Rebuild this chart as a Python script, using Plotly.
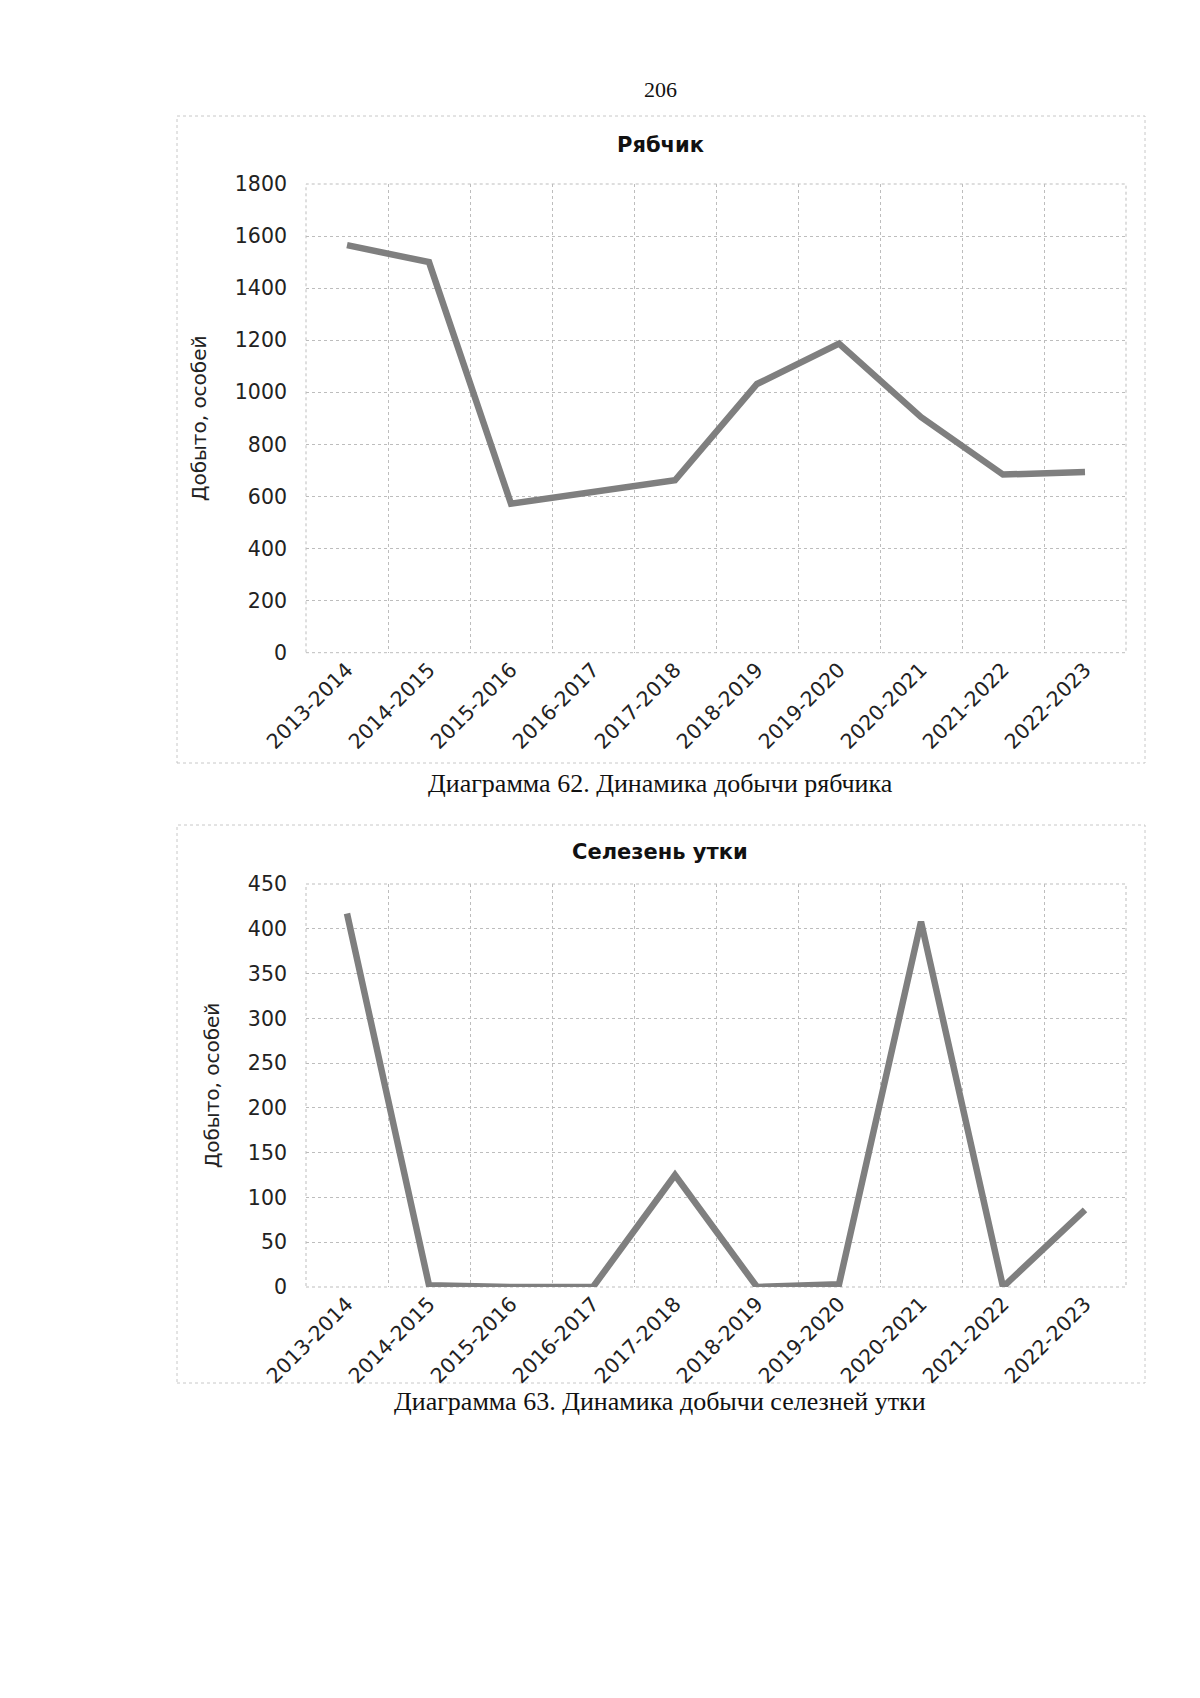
import plotly.graph_objects as go

seasons = ["2013-2014", "2014-2015", "2015-2016", "2016-2017", "2017-2018",
           "2018-2019", "2019-2020", "2020-2021", "2021-2022", "2022-2023"]
ryabchik = [1565, 1500, 572, 617, 662, 1032, 1187, 905, 684, 694]
selezen = [417, 2, 0, 0, 125, 0, 3, 408, 0, 86]

y1_ticks = [0, 200, 400, 600, 800, 1000, 1200, 1400, 1600, 1800]
y2_ticks = [0, 50, 100, 150, 200, 250, 300, 350, 400, 450]

OFF = 8  # page body margin in the browser
W, H = 1200 - OFF, 1698 - OFF
LINE_COLOR = "#7f7f7f"
GRID = "#bdbdbd"
TICK_FONT = dict(family="DejaVu Sans", size=20.5, color="#222222")


def px_x(x):
    return (x - OFF) / W


def px_y(y):
    return 1 - (y - OFF) / H


fig = go.Figure()
fig.add_trace(go.Scatter(x=seasons, y=ryabchik, mode="lines",
                         line=dict(color=LINE_COLOR, width=6.5),
                         xaxis="x", yaxis="y", showlegend=False))
fig.add_trace(go.Scatter(x=seasons, y=selezen, mode="lines",
                         line=dict(color=LINE_COLOR, width=6.5),
                         xaxis="x2", yaxis="y2", showlegend=False))

xcommon = dict(type="category", tickson="boundaries", showgrid=True,
               gridcolor=GRID, griddash="dot", gridwidth=1,
               ticks="", tickangle=-45, tickfont=TICK_FONT,
               showline=False, zeroline=False, range=[-0.5, 9.5],
               categoryorder="array", categoryarray=seasons,
               automargin=False,
               domain=[px_x(306), px_x(1126)])
ycommon = dict(showgrid=True, gridcolor=GRID, griddash="dot", gridwidth=1,
               ticks="", tickfont=TICK_FONT, showline=False, zeroline=False,
               ticklabelstandoff=18, automargin=False,
               title=dict(text="Добыто, особей",
                          font=dict(family="DejaVu Sans", size=20, color="#222222"),
                          standoff=22))

fig.update_layout(
    width=W, height=H, autosize=False,
    margin=dict(l=0, r=0, t=0, b=0, autoexpand=False),
    paper_bgcolor="white", plot_bgcolor="white",
    xaxis=dict(**xcommon, anchor="y"),
    yaxis=dict(**ycommon, range=[0, 1800], tickvals=y1_ticks,
               domain=[px_y(652.7), px_y(184)], anchor="x"),
    xaxis2=dict(**xcommon, anchor="y2"),
    yaxis2=dict(**ycommon, range=[0, 450], tickvals=y2_ticks,
                domain=[px_y(1287), px_y(884)], anchor="x2"),
)

# chart frames (dotted)
for (x0, y0, x1, y1) in [(177, 116, 1145, 763), (177, 825, 1145, 1383)]:
    fig.add_shape(type="rect", xref="paper", yref="paper",
                  x0=px_x(x0), x1=px_x(x1), y0=px_y(y1), y1=px_y(y0),
                  line=dict(color="#c8c8c8", width=1, dash="dot"),
                  fillcolor="rgba(0,0,0,0)", layer="below")

# plot-area borders (dotted)
for (y0, y1) in [(184, 652.7), (884, 1287)]:
    fig.add_shape(type="rect", xref="paper", yref="paper",
                  x0=px_x(306), x1=px_x(1126), y0=px_y(y1), y1=px_y(y0),
                  line=dict(color=GRID, width=1, dash="dot"),
                  fillcolor="rgba(0,0,0,0)", layer="below")

texts = [
    ("206", 660, 90, dict(family="Liberation Serif", size=22, color="#111111")),
    ("<b>Рябчик</b>", 660, 145, dict(family="DejaVu Sans", size=21, color="#111111")),
    ("<b>Селезень утки</b>", 660, 852, dict(family="DejaVu Sans", size=21, color="#111111")),
    ("Диаграмма 62. Динамика добычи рябчика", 660, 783,
     dict(family="Liberation Serif", size=26, color="#111111")),
    ("Диаграмма 63. Динамика добычи селезней утки", 660, 1401,
     dict(family="Liberation Serif", size=26, color="#111111")),
]
for t, x, y, f in texts:
    fig.add_annotation(text=t, xref="paper", yref="paper",
                       x=px_x(x), y=px_y(y), xanchor="center", yanchor="middle",
                       showarrow=False, font=f)

fig.write_html("out.html")
